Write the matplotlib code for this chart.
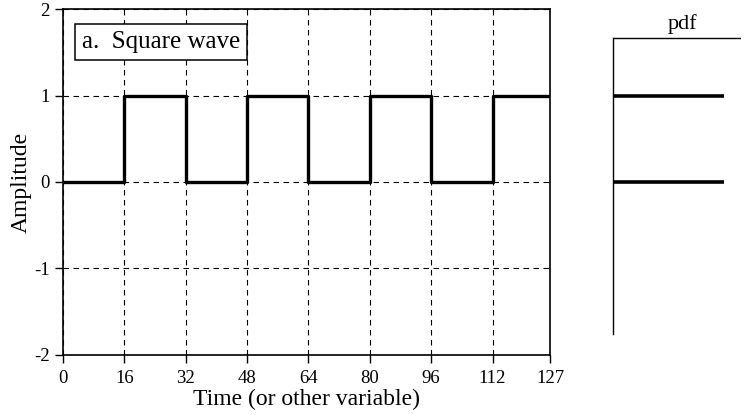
import matplotlib
matplotlib.use("Agg")
import matplotlib.pyplot as plt

plt.rcParams["font.family"] = ["Liberation Serif", "DejaVu Serif"]
plt.rcParams["axes.unicode_minus"] = False

# square wave: level held from each edge to the next
edges = [0, 16, 32, 48, 64, 80, 96, 112, 127]
levels = [0, 1, 0, 1, 0, 1, 0, 1]
xticks = [0, 16, 32, 48, 64, 80, 96, 112, 127]
yticks = [-2, -1, 0, 1, 2]

# probability density: two spikes at amplitude 0 and 1
pdf_levels = [0, 1]
pdf_values = [0.5, 0.5]


def main():
    fig = plt.figure(figsize=(7.44, 4.15), dpi=100)
    ax = fig.add_axes([0.0847, 0.1446, 0.6546, 0.8337])

    ax.step(edges, levels + [levels[-1]], where="post", color="black", lw=2.4)
    ax.set_xlim(0, 127)
    ax.set_ylim(-2, 2)
    ax.set_xticks(xticks)
    ax.set_yticks(yticks)
    ax.tick_params(direction="out", length=6, width=1, labelsize=13.5,
                   colors="black")
    ax.tick_params(axis="x", pad=5)
    ax.grid(True, color="black", linestyle=(0, (5, 4)), linewidth=0.8)
    for s in ax.spines.values():
        s.set_linewidth(1.2)
    ax.set_xlabel("Time (or other variable)", fontsize=17, labelpad=1)
    ax.set_ylabel("Amplitude", fontsize=17, labelpad=2)
    ax.text(0.039, 0.905, "a.  Square wave", transform=ax.transAxes, fontsize=18,
            va="center", ha="left",
            bbox=dict(boxstyle="square,pad=0.27", fc="white", ec="black", lw=1.1))

    # side panel with the amplitude distribution
    pax = fig.add_axes([0.8239, 0.1446, 0.172, 0.8337], sharey=ax)
    pax.hlines(pdf_levels, 0, pdf_values, color="black", lw=2.6)
    pax.set_xlim(0, 0.577)
    top, bottom = 1.665, -1.757
    pax.axhline(top, color="black", lw=1.0)
    for name in ("top", "right", "bottom"):
        pax.spines[name].set_visible(False)
    pax.spines["left"].set_bounds(bottom, top)
    pax.spines["left"].set_linewidth(1.0)
    pax.tick_params(left=False, bottom=False, labelleft=False, labelbottom=False)
    pax.text(0.54, top + 0.05, "pdf", transform=pax.get_yaxis_transform(),
             ha="center", va="bottom", fontsize=16)

    fig.savefig("out.png", dpi=100)
    plt.close(fig)


if __name__ == "__main__":
    main()
